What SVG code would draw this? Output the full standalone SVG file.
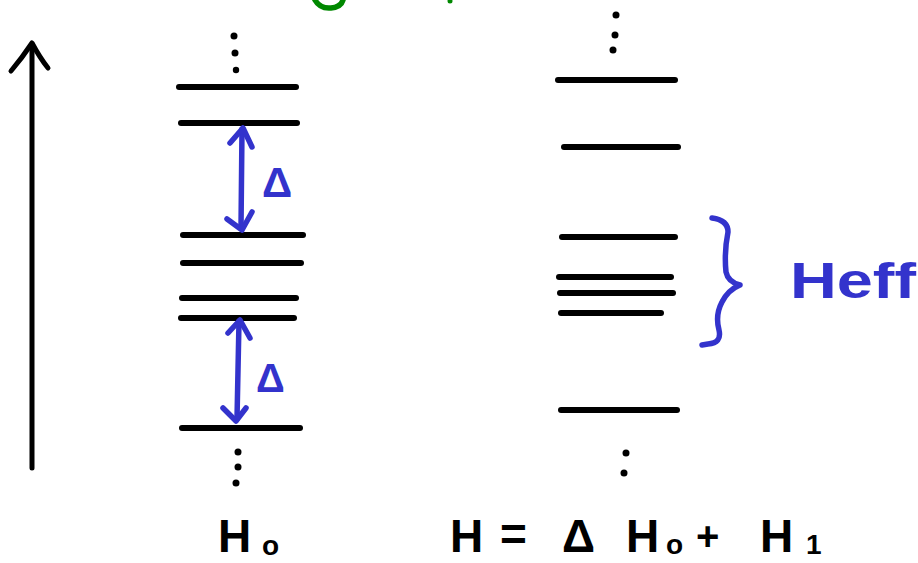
<svg xmlns="http://www.w3.org/2000/svg" width="918" height="563" viewBox="0 0 918 563">
<style>
.lvl{stroke:#000;stroke-width:6;stroke-linecap:round;fill:none}
.dot{fill:#000}
.blue{stroke:#3333cc;stroke-width:5.5;stroke-linecap:round;stroke-linejoin:round;fill:none}
.axis{stroke:#000;stroke-width:5;stroke-linecap:round;stroke-linejoin:round;fill:none}
.bt{font-family:"Liberation Sans","DejaVu Sans",sans-serif;font-weight:bold;fill:#3333cc}
.kt{font-family:"Liberation Sans","DejaVu Sans",sans-serif;font-weight:bold;fill:#000}
</style>
<rect width="918" height="563" fill="#fff"/>
<g id="green-fragment">
<path d="M315,0 Q320,9 331,8 Q341,7 343,0" stroke="#008800" stroke-width="5.5" fill="none" stroke-linecap="round"/>
<circle cx="450" cy="1" r="2.5" fill="#008800"/>
</g>
<g id="axis">
<path class="axis" d="M32,468 L32,44"/>
<path class="axis" d="M11,71 Q22,58 32,43 Q40,58 48,68"/>
</g>
<g id="H0-levels">
<circle class="dot" cx="234" cy="36" r="3.5"/>
<circle class="dot" cx="235" cy="53" r="3.5"/>
<circle class="dot" cx="236" cy="70" r="3.2"/>
<line class="lvl" x1="179" y1="87" x2="296" y2="87"/>
<line class="lvl" x1="181" y1="123" x2="297" y2="123"/>
<line class="lvl" x1="183" y1="235" x2="303" y2="235"/>
<line class="lvl" x1="183" y1="263" x2="301" y2="263"/>
<line class="lvl" x1="182" y1="298" x2="296" y2="298"/>
<line class="lvl" x1="181" y1="318" x2="294" y2="318"/>
<line class="lvl" x1="182" y1="428" x2="300" y2="428"/>
<circle class="dot" cx="238" cy="452" r="3.5"/>
<circle class="dot" cx="238" cy="467" r="3.5"/>
<circle class="dot" cx="236" cy="483" r="3.5"/>
</g>
<g id="connectors">
<path class="blue" d="M242,129 L241,228"/>
<path class="blue" d="M230,143 L243,128 L252,147"/>
<path class="blue" d="M227,219 L242,230 L252,212"/>
<path class="blue" d="M239,321 L237,419"/>
<path class="blue" d="M228,333 L240,320 L250,338"/>
<path class="blue" d="M223,408 L236,421 L246,408"/>
</g>
<g id="delta-labels">
<text class="bt" x="262" y="197" font-size="42">Δ</text>
<text class="bt" x="256" y="392" font-size="40">Δ</text>
</g>
<g id="H-levels">
<circle class="dot" cx="616" cy="15" r="3.5"/>
<circle class="dot" cx="615" cy="35" r="3.5"/>
<circle class="dot" cx="613" cy="50" r="3.5"/>
<line class="lvl" x1="558" y1="80" x2="675" y2="80"/>
<line class="lvl" x1="564" y1="147" x2="678" y2="147"/>
<line class="lvl" x1="562" y1="237" x2="675" y2="237"/>
<line class="lvl" x1="559" y1="277" x2="671" y2="277"/>
<line class="lvl" x1="560" y1="293" x2="673" y2="293"/>
<line class="lvl" x1="561" y1="313" x2="661" y2="313"/>
<line class="lvl" x1="561" y1="410" x2="677" y2="410"/>
<circle class="dot" cx="626" cy="453" r="3.5"/>
<circle class="dot" cx="624" cy="473" r="3.5"/>
</g>
<g id="Heff-brace">
<path class="blue" d="M712,218 Q728,220 728,232 Q724,252 726,272 Q728,282 740,285 Q728,290 722,302 Q715,315 719,330 Q722,343 708,344 L702,345"/>
<text class="bt" x="790" y="298" font-size="50" textLength="126" lengthAdjust="spacingAndGlyphs">Heff</text>
</g>
<g id="label-H0">
<text class="kt" x="218" y="552" font-size="46">H</text>
<text class="kt" x="262" y="555" font-size="28">o</text>
</g>
<g id="label-H">
<text class="kt" x="450" y="552" font-size="46">H</text>
<text class="kt" x="500" y="550" font-size="46">=</text>
<text class="kt" x="562" y="552" font-size="46">Δ</text>
<text class="kt" x="626" y="552" font-size="46">H</text>
<text class="kt" x="666" y="554" font-size="28">o</text>
<text class="kt" x="696" y="550" font-size="40">+</text>
<text class="kt" x="760" y="552" font-size="46">H</text>
<text class="kt" x="806" y="554" font-size="28">1</text>
</g>
</svg>
